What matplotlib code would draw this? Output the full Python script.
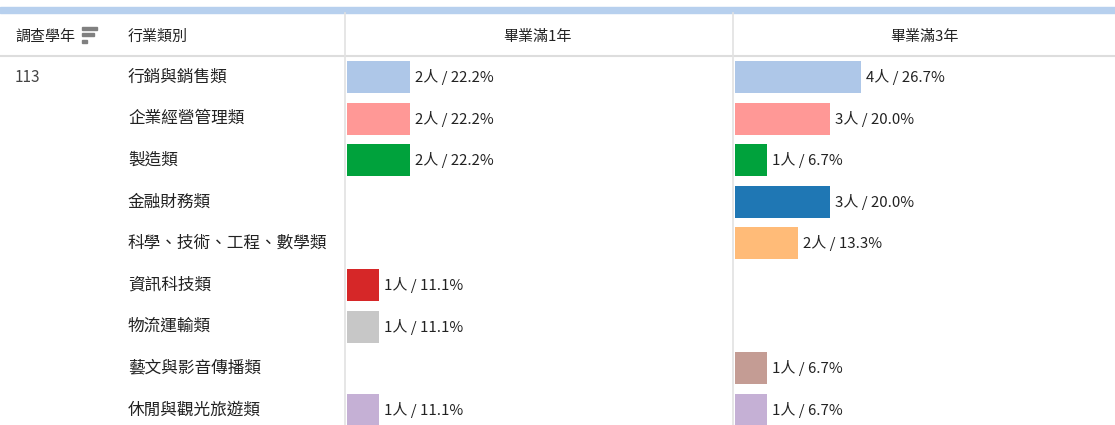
import matplotlib.pyplot as plt
from matplotlib.patches import Rectangle

plt.rcParams['font.family'] = ['Noto Sans CJK TC', 'DejaVu Sans']

year = "113"
categories = ["行銷與銷售類", "企業經營管理類", "製造類", "金融財務類", "科學、技術、工程、數學類",
              "資訊科技類", "物流運輸類", "藝文與影音傳播類", "休閒與觀光旅遊類"]
colors = ["#aec7e8", "#ff9896", "#00a23c", "#1f77b4", "#ffbb78",
          "#d62728", "#c7c7c7", "#c49c94", "#c5b0d5"]
count_1y = [2, 2, 2, 0, 0, 1, 1, 0, 1]
pct_1y = [22.2, 22.2, 22.2, 0, 0, 11.1, 11.1, 0, 11.1]
count_3y = [4, 3, 1, 3, 2, 0, 0, 1, 1]
pct_3y = [26.7, 20.0, 6.7, 20.0, 13.3, 0, 0, 6.7, 6.7]
headers = ["調查學年", "行業類別", "畢業滿1年", "畢業滿3年"]

W, H = 1115, 425
fig = plt.figure(figsize=(W / 100, H / 100), dpi=100)

def fx(px):
    return px / W

def fy(py):
    return 1 - py / H

txt = "#222222"
fs_head = 10.8
fs_body = 12
fs_lab = 10.8

# top band and grid lines
fig.patches.append(Rectangle((0, fy(13)), 1, 6 / H, transform=fig.transFigure,
                             color="#b7d0ee", zorder=0))
fig.add_artist(plt.Line2D([0, 1], [fy(55.5), fy(55.5)], transform=fig.transFigure,
                          color="#dddddd", lw=1.5))
for xv in (345, 733):
    fig.add_artist(plt.Line2D([fx(xv), fx(xv)], [fy(13), 0], transform=fig.transFigure,
                              color="#e2e2e2", lw=1.2))

# header
fig.text(fx(15), fy(37), headers[0], fontsize=fs_head, color=txt, va="center")
fig.text(fx(128), fy(37), headers[1], fontsize=fs_head, color=txt, va="center")
fig.text(fx(537), fy(37), headers[2], fontsize=fs_head, color=txt, va="center", ha="center")
fig.text(fx(924), fy(37), headers[3], fontsize=fs_head, color=txt, va="center", ha="center")
# sort icon
for yv, wpx in [(30, 15), (36, 12), (43, 5)]:
    fig.patches.append(Rectangle((fx(82), fy(yv)), wpx / W, 3 / H,
                                 transform=fig.transFigure, color="#808080"))

# row labels
row0, step = 77, 41.6
fig.text(fx(15), fy(row0), year, fontsize=11, color="#444444", va="center")
for i, c in enumerate(categories):
    fig.text(fx(128), fy(row0 + i * step), c, fontsize=fs_body, color=txt, va="center")

# bar columns
ppx = 31.6  # pixels per person
top = 56
ylo = -(row0 - top) / step
yhi = (H - row0) / step
for x0, x1, counts, pcts in [(347, 733, count_1y, pct_1y), (735, W, count_3y, pct_3y)]:
    ax = fig.add_axes([fx(x0), 0, (x1 - x0) / W, (H - top) / H])
    ax.set_xlim(0, (x1 - x0) / ppx)
    ax.set_ylim(yhi, ylo)
    ax.axis("off")
    idx = [i for i, n in enumerate(counts) if n > 0]
    ax.barh(idx, [counts[i] for i in idx], height=0.77,
            color=[colors[i] for i in idx], edgecolor="none")
    for i in idx:
        ax.text(counts[i] + 5 / ppx, i, f"{counts[i]}人 / {pcts[i]:.1f}%",
                fontsize=fs_lab, color=txt, va="center")

fig.savefig("out.png", dpi=100)
